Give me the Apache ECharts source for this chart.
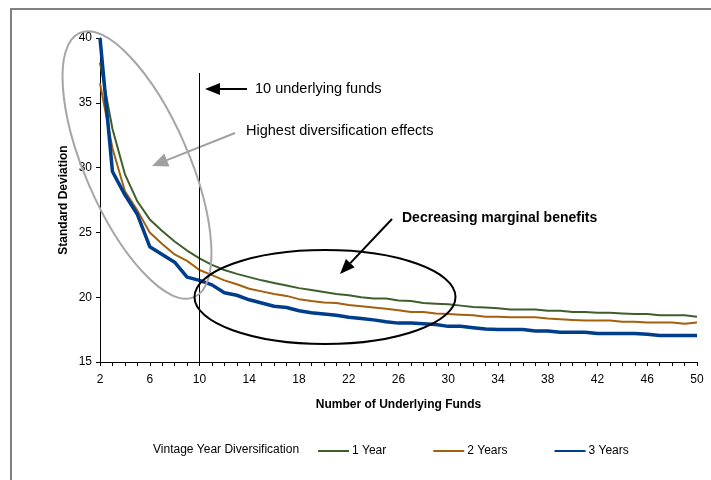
<!DOCTYPE html>
<html>
<head>
<meta charset="utf-8">
<script src="https://cdn.jsdelivr.net/npm/echarts@6/dist/echarts.min.js"></script>
<style>
  html, body { margin: 0; padding: 0; background: #fff; }
  #chart { width: 711px; height: 480px; }
</style>
</head>
<body>
<div id="chart"></div>
<script>
// number of underlying funds (x categories)
const funds = ['2', '3', '4', '5', '6', '7', '8', '9', '10', '11', '12', '13', '14', '15', '16', '17', '18', '19', '20',
  '21', '22', '23', '24', '25', '26', '27', '28', '29', '30', '31', '32', '33', '34', '35', '36', '37', '38', '39', '40',
  '41', '42', '43', '44', '45', '46', '47', '48', '49', '50'];

// standard deviation by vintage year diversification
const oneYear = [38.1, 33.0, 29.5, 27.4, 26.0, 25.1, 24.3, 23.6, 23.0, 22.5, 22.1, 21.8, 21.55, 21.3, 21.1, 20.9, 20.7, 20.55, 20.4,
  20.25, 20.15, 20.0, 19.9, 19.9, 19.75, 19.7, 19.55, 19.5, 19.45, 19.35, 19.25, 19.2, 19.15, 19.05, 19.05, 19.05, 18.95, 18.95, 18.85,
  18.85, 18.8, 18.8, 18.75, 18.7, 18.7, 18.6, 18.6, 18.6, 18.5];
const twoYears = [36.5, 31.5, 28.2, 26.7, 25.0, 24.1, 23.3, 22.8, 22.1, 21.7, 21.3, 21.0, 20.65, 20.45, 20.25, 20.1, 19.85, 19.7, 19.6,
  19.55, 19.4, 19.3, 19.2, 19.1, 19.0, 18.85, 18.85, 18.75, 18.7, 18.65, 18.6, 18.5, 18.5, 18.45, 18.45, 18.45, 18.35, 18.3, 18.25,
  18.2, 18.2, 18.2, 18.1, 18.1, 18.05, 18.05, 18.05, 17.95, 18.05];
const threeYears = [40.0, 29.7, 27.9, 26.4, 23.9, 23.3, 22.7, 21.55, 21.3, 20.95, 20.35, 20.15, 19.8, 19.55, 19.3, 19.2, 18.95, 18.8, 18.7,
  18.6, 18.45, 18.35, 18.25, 18.1, 18.0, 18.0, 17.95, 17.9, 17.75, 17.75, 17.65, 17.55, 17.5, 17.5, 17.5, 17.4, 17.4, 17.3, 17.3,
  17.3, 17.2, 17.2, 17.2, 17.2, 17.15, 17.05, 17.05, 17.05, 17.05];

const FONT = '"Liberation Sans", Arial, sans-serif';

// straight arrow with a filled head at (x2, y2)
function arrow(x1, y1, x2, y2, color, width, headLen, headHalf) {
  const ang = Math.atan2(y2 - y1, x2 - x1);
  const bx = x2 - headLen * Math.cos(ang);
  const by = y2 - headLen * Math.sin(ang);
  const px = -Math.sin(ang) * headHalf;
  const py = Math.cos(ang) * headHalf;
  return [
    { type: 'line', shape: { x1: x1, y1: y1, x2: bx, y2: by }, style: { stroke: color, lineWidth: width } },
    { type: 'polygon', shape: { points: [[x2, y2], [bx + px, by + py], [bx - px, by - py]] }, style: { fill: color } }
  ];
}

const chart = echarts.init(document.getElementById('chart'));

const option = {
  animation: false,
  textStyle: { fontFamily: FONT },
  grid: { left: 100, right: 14, top: 38, bottom: 118 },
  xAxis: {
    type: 'category',
    data: funds,
    boundaryGap: false,
    name: 'Number of Underlying Funds',
    nameLocation: 'middle',
    nameGap: 37,
    nameTextStyle: { color: '#000', fontSize: 12, fontWeight: 'bold', fontFamily: FONT },
    axisLine: { lineStyle: { color: '#000', width: 1 } },
    axisTick: { interval: 0, length: 4, lineStyle: { color: '#000' } },
    axisLabel: { interval: 3, color: '#000', fontSize: 12, margin: 12, fontFamily: FONT },
    splitLine: { show: false }
  },
  yAxis: {
    type: 'value',
    min: 15,
    max: 40,
    interval: 5,
    name: 'Standard Deviation',
    nameLocation: 'middle',
    nameGap: 30,
    nameMoveOverlap: false,
    nameRotate: 90,
    nameTextStyle: { color: '#000', fontSize: 12, fontWeight: 'bold', fontFamily: FONT },
    axisLine: { show: true, lineStyle: { color: '#000', width: 1 } },
    axisTick: { show: true, length: 4, lineStyle: { color: '#000' } },
    axisLabel: { color: '#000', fontSize: 12, margin: 8, fontFamily: FONT },
    splitLine: { show: false }
  },
  legend: {
    data: ['1 Year', '2 Years', '3 Years'],
    left: 312,
    top: 440,
    itemWidth: 31,
    itemHeight: 12,
    itemGap: 46,
    itemStyle: { opacity: 0 },
    textStyle: { color: '#000', fontSize: 12, fontFamily: FONT, padding: [0, 0, 0, -2] }
  },
  series: [
    {
      name: '1 Year', type: 'line', data: oneYear, symbol: 'none',
      lineStyle: { color: '#3e5f2a', width: 2 }, itemStyle: { color: '#3e5f2a' },
      markLine: {
        silent: true, symbol: 'none', label: { show: false },
        lineStyle: { color: '#000', width: 1, type: 'solid' },
        data: [[{ coord: ['10', 37.3] }, { coord: ['10', 15] }]]
      }
    },
    {
      name: '2 Years', type: 'line', data: twoYears, symbol: 'none',
      lineStyle: { color: '#a3600d', width: 2 }, itemStyle: { color: '#a3600d' }
    },
    {
      name: '3 Years', type: 'line', data: threeYears, symbol: 'none',
      lineStyle: { color: '#003d8a', width: 3.5 }, itemStyle: { color: '#003d8a' }
    }
  ],
  graphic: [
    // outer frame
    { type: 'rect', shape: { x: 11, y: 9, width: 760, height: 520 }, style: { fill: 'none', stroke: '#808080', lineWidth: 2 }, z: 0 },
    // ellipses
    { type: 'ellipse', x: 137, y: 165, rotation: 23.4 * Math.PI / 180, shape: { cx: 0, cy: 0, rx: 52, ry: 144 },
      style: { fill: 'none', stroke: '#a6a6a6', lineWidth: 2 }, z: 10 },
    { type: 'ellipse', shape: { cx: 325, cy: 297, rx: 130.5, ry: 47 },
      style: { fill: 'none', stroke: '#000', lineWidth: 2 }, z: 10 },
    // arrows
    ...arrow(247, 89, 205, 89, '#000', 2, 15, 6),
    ...arrow(235, 133, 152, 166, '#a0a0a0', 2, 16, 7),
    ...arrow(392, 219, 340, 274, '#000', 2, 15, 6),
    // annotation texts
    { type: 'text', x: 255, y: 89, style: { text: '10 underlying funds', font: '14.5px ' + FONT, fill: '#000', textVerticalAlign: 'middle' } },
    { type: 'text', x: 246, y: 131, style: { text: 'Highest diversification effects', font: '14.5px ' + FONT, fill: '#000', textVerticalAlign: 'middle' } },
    { type: 'text', x: 402, y: 218, style: { text: 'Decreasing marginal benefits', font: 'bold 14px ' + FONT, fill: '#000', textVerticalAlign: 'middle' } },
    { type: 'text', x: 153, y: 450, style: { text: 'Vintage Year Diversification', font: '12px ' + FONT, fill: '#000', textVerticalAlign: 'middle' } }
  ]
};

chart.setOption(option);
</script>
</body>
</html>
